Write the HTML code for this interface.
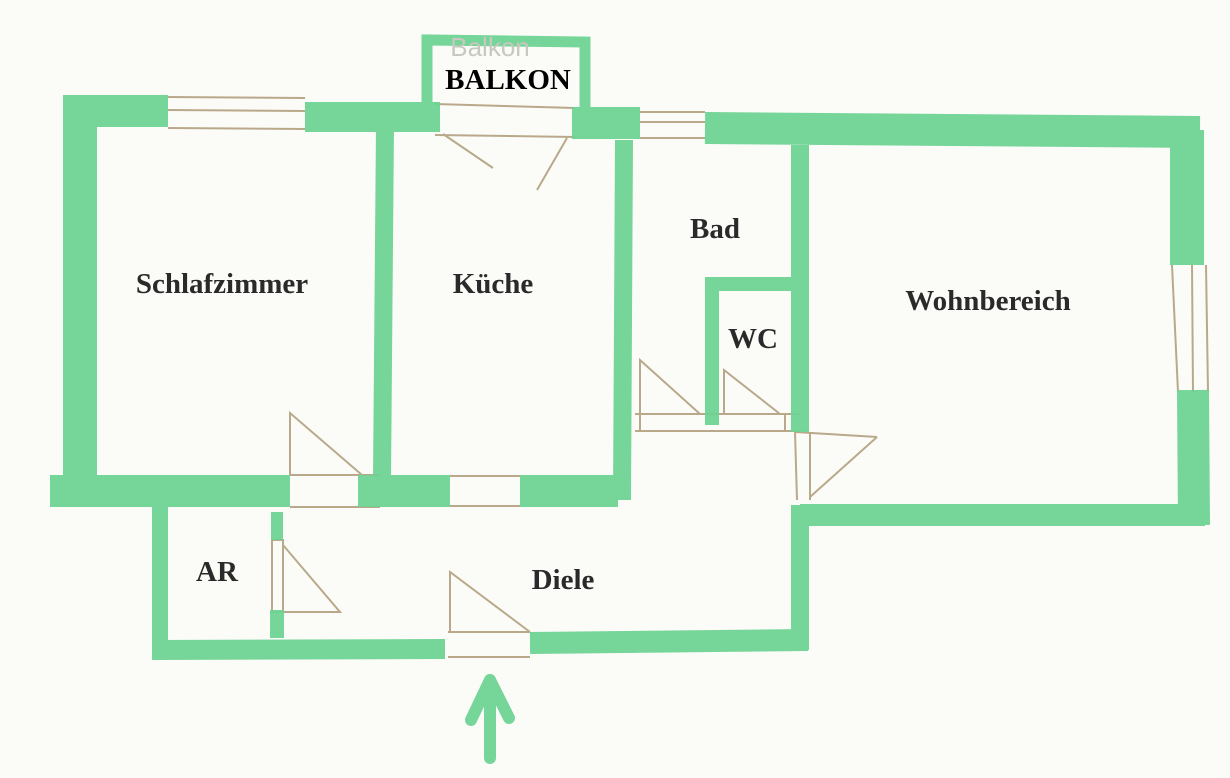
<!DOCTYPE html>
<html><head><meta charset="utf-8"><style>
html,body{margin:0;padding:0;background:#fbfcf8;}
svg{display:block}
text{font-family:"Liberation Serif",serif;font-weight:bold;fill:#2a2a2a;}
</style></head><body>
<svg width="1230" height="778" viewBox="0 0 1230 778" xmlns="http://www.w3.org/2000/svg">
<rect width="1230" height="778" fill="#fbfcf8"/>
<g stroke="#b9a98a" stroke-width="2" fill="none">
 <line x1="168" y1="97" x2="305" y2="98"/><line x1="168" y1="110" x2="305" y2="111"/><line x1="168" y1="128" x2="305" y2="129"/>
 <line x1="640" y1="112" x2="705" y2="112"/><line x1="640" y1="122" x2="705" y2="122"/><line x1="640" y1="138" x2="705" y2="138"/>
 <line x1="435" y1="104" x2="575" y2="108"/><line x1="435" y1="135" x2="575" y2="137"/>
 <line x1="443" y1="134" x2="493" y2="168"/><line x1="567" y1="138" x2="537" y2="190"/>
 <line x1="1172" y1="265" x2="1178" y2="392"/><line x1="1192" y1="265" x2="1193" y2="392"/><line x1="1206" y1="265" x2="1208" y2="392"/>
 <line x1="290" y1="475" x2="380" y2="475"/><line x1="290" y1="507" x2="380" y2="507"/>
 <polyline points="290,475 290,413 362,475"/>
 <line x1="450" y1="476" x2="520" y2="476"/><line x1="450" y1="506" x2="520" y2="506"/>
 <polyline points="640,430 640,360 700,414"/><polyline points="724,414 724,370 780,414"/>
 <line x1="635" y1="414" x2="800" y2="414"/><line x1="635" y1="431" x2="800" y2="431"/>
 <line x1="640" y1="414" x2="640" y2="431"/><line x1="785" y1="414" x2="785" y2="431"/>
 <line x1="795" y1="432" x2="877" y2="437"/><line x1="795" y1="432" x2="797" y2="500"/><line x1="810" y1="432" x2="810" y2="500"/>
 <line x1="810" y1="497" x2="877" y2="437"/>
 <rect x="272" y="540" width="11" height="72"/><polyline points="283,545 340,612 283,612"/>
 <polyline points="450,632 450,572 530,632"/>
 <line x1="448" y1="632" x2="530" y2="632"/><line x1="448" y1="657" x2="530" y2="657"/>
</g>
<g stroke="#6fd393" stroke-linecap="butt" fill="none" opacity="0.95">
 <line x1="80" y1="95" x2="80" y2="492" stroke-width="34"/>
 <line x1="63" y1="111" x2="168" y2="111" stroke-width="32"/>
 <line x1="305" y1="117" x2="440" y2="117" stroke-width="30"/>
 <polyline points="427,104 427,40 585,42 585,108" stroke-width="11"/>
 <line x1="572" y1="123" x2="640" y2="123" stroke-width="32"/>
 <line x1="705" y1="128" x2="1200" y2="132" stroke-width="32"/>
 <line x1="1187" y1="130" x2="1187" y2="265" stroke-width="34"/>
 <line x1="1193" y1="390" x2="1194" y2="525" stroke-width="32"/>
 <line x1="800" y1="515" x2="1205" y2="515" stroke-width="22"/>
 <line x1="385" y1="125" x2="382" y2="478" stroke-width="18"/>
 <line x1="624" y1="140" x2="622" y2="500" stroke-width="18"/>
 <line x1="800" y1="145" x2="800" y2="432" stroke-width="18"/>
 <line x1="800" y1="505" x2="800" y2="650" stroke-width="18"/>
 <polyline points="712,425 712,284 800,284" stroke-width="14"/>
 <line x1="50" y1="491" x2="290" y2="491" stroke-width="32"/>
 <line x1="358" y1="491" x2="450" y2="491" stroke-width="32"/>
 <line x1="520" y1="491" x2="618" y2="491" stroke-width="32"/>
 <line x1="160" y1="505" x2="160" y2="660" stroke-width="16"/>
 <line x1="152" y1="650" x2="445" y2="649" stroke-width="20"/>
 <line x1="530" y1="643" x2="808" y2="640" stroke-width="22"/>
 <line x1="277" y1="512" x2="277" y2="540" stroke-width="12"/>
 <line x1="277" y1="610" x2="277" y2="638" stroke-width="14"/>
 <g stroke-width="12" stroke-linecap="round">
  <line x1="490" y1="758" x2="490" y2="682"/>
  <line x1="490" y1="680" x2="471" y2="720"/>
  <line x1="490" y1="680" x2="509" y2="718"/>
 </g>
</g>
<text x="490" y="56" text-anchor="middle" font-size="26" style="font-family:'Liberation Sans',sans-serif;font-weight:normal;fill:#c8c8c0">Balkon</text>
<text x="508" y="89" text-anchor="middle" font-size="29" style="fill:#000">BALKON</text>
<text x="222" y="293" text-anchor="middle" font-size="29">Schlafzimmer</text>
<text x="493" y="293" text-anchor="middle" font-size="29">Küche</text>
<text x="715" y="238" text-anchor="middle" font-size="29">Bad</text>
<text x="753" y="348" text-anchor="middle" font-size="29">WC</text>
<text x="988" y="310" text-anchor="middle" font-size="29">Wohnbereich</text>
<text x="217" y="581" text-anchor="middle" font-size="29">AR</text>
<text x="563" y="589" text-anchor="middle" font-size="29">Diele</text>
</svg>
</body></html>
